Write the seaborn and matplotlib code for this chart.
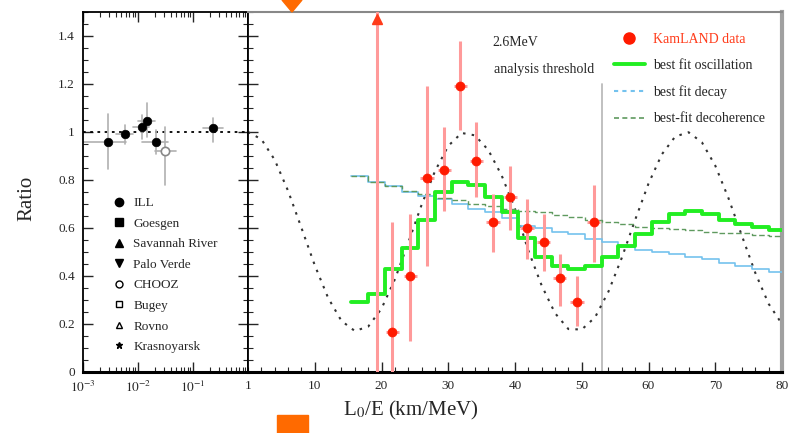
import numpy as np
import pandas as pd
import matplotlib
matplotlib.use("Agg")
import matplotlib.pyplot as plt
import seaborn as sns
from matplotlib.lines import Line2D
from matplotlib.patches import Polygon, Rectangle
from matplotlib.ticker import MultipleLocator, FixedLocator, FixedFormatter, NullFormatter, LogLocator

# ---------------- data ----------------
# left panel: earlier reactor experiments (L/E in km/MeV, log scale)
ref_x = [0.0029, 0.0058, 0.0117, 0.0145, 0.0213, 0.031, 0.23]
ref_y = [0.958, 0.99, 1.02, 1.046, 0.958, 0.92, 1.017]
ref_ylo = [0.846, 0.95, 0.97, 0.98, 0.91, 0.78, 0.96]
ref_yhi = [1.075, 1.03, 1.07, 1.12, 1.01, 1.02, 1.06]
ref_xlo = [0.001, 0.004, 0.008, 0.010, 0.012, 0.020, 0.15]
ref_xhi = [0.006, 0.008, 0.016, 0.020, 0.035, 0.050, 0.35]
ref_labels = ["ILL", "Goesgen", "Savannah River", "Palo Verde",
              "CHOOZ", "Bugey", "Rovno", "Krasnoyarsk"]

# right panel: KamLAND data
kl_x = [21.6, 24.3, 26.8, 29.4, 31.8, 34.2, 36.7, 39.3, 41.8, 44.3, 46.7, 49.3, 51.8]
kl_y = [0.167, 0.40, 0.81, 0.84, 1.19, 0.88, 0.625, 0.73, 0.60, 0.54, 0.39, 0.29, 0.625]
kl_lo = [0.0, 0.13, 0.44, 0.67, 1.01, 0.73, 0.50, 0.59, 0.47, 0.42, 0.275, 0.19, 0.46]
kl_hi = [0.625, 0.66, 1.19, 1.02, 1.38, 1.04, 0.74, 0.86, 0.72, 0.66, 0.49, 0.40, 0.78]
kl_off_x = [19.3]          # point whose marker is off scale (upper arrow)
kl_off_range = [0.0, 1.5]

# binned fit curves (bin edges in L0/E)
bin_edges = [15.5, 18.0, 20.5, 23.0, 25.5, 28.0, 30.5, 33.0, 35.5, 38.0, 40.5, 43.0, 45.5,
             48.0, 50.5, 53.0, 55.5, 58.0, 60.5, 63.0, 65.5, 68.0, 70.5, 73.0, 75.5, 78.0, 80.0]
osc_fit = [0.29, 0.325, 0.43, 0.515, 0.635, 0.75, 0.79, 0.78, 0.73, 0.665, 0.56, 0.48, 0.44,
           0.43, 0.44, 0.48, 0.525, 0.575, 0.625, 0.66, 0.67, 0.66, 0.635, 0.617, 0.604, 0.59]
decay_fit = [0.815, 0.79, 0.775, 0.75, 0.735, 0.72, 0.70, 0.68, 0.665, 0.64, 0.61, 0.60, 0.585,
             0.575, 0.555, 0.54, 0.52, 0.51, 0.50, 0.49, 0.48, 0.47, 0.455, 0.44, 0.43, 0.415]
decoh_fit = [0.815, 0.79, 0.775, 0.755, 0.74, 0.725, 0.715, 0.70, 0.69, 0.68, 0.67, 0.665, 0.655,
             0.645, 0.635, 0.625, 0.615, 0.605, 0.60, 0.595, 0.59, 0.585, 0.58, 0.578, 0.572, 0.567]

# unsmeared oscillation curve
osc_x = [0, 2, 4, 6, 8, 10, 12, 14, 16, 18, 20, 22, 24, 26, 28, 30, 32, 34, 36, 38, 40,
         42, 44, 46, 48, 50, 52, 54, 56, 58, 60, 62, 64, 66, 68, 70, 72, 74, 76, 78, 80]
osc_y = [1.00, 0.970, 0.884, 0.755, 0.601, 0.445, 0.309, 0.213, 0.171, 0.189, 0.264,
         0.386, 0.538, 0.696, 0.836, 0.942, 0.996, 0.986, 0.925, 0.819, 0.680,
         0.506, 0.360, 0.245, 0.179, 0.177, 0.228, 0.335, 0.476, 0.634, 0.785,
         0.907, 0.981, 0.999, 0.957, 0.860, 0.723, 0.567, 0.413, 0.284, 0.200]

threshold_x = 53.0
threshold_top = 1.2

left_ticks = [0.001, 0.01, 0.1, 1.0]
left_ticklabels = [r"$10^{-3}$", r"$10^{-2}$", r"$10^{-1}$", "1"]
right_ticks = [10, 20, 30, 40, 50, 60, 70, 80]

# ---------------- style ----------------
sns.set_theme(style="ticks")
plt.rcParams["font.family"] = ["Liberation Serif", "DejaVu Serif"]
plt.rcParams["mathtext.fontset"] = "stix"
plt.rcParams["xtick.direction"] = "in"
plt.rcParams["ytick.direction"] = "in"

fig = plt.figure(figsize=(7.98, 4.33), dpi=100)
W, H = 798.0, 433.0
axL = fig.add_axes([83 / W, 1 - 372 / H, 165 / W, 360 / H])
axR = fig.add_axes([248 / W, 1 - 372 / H, 534 / W, 360 / H])

# ---------- left panel ----------
axL.set_xscale("log")
axL.set_xlim(0.001, 1.0)
axL.set_ylim(0, 1.5)
axL.axhline(1.0, color="black", lw=1.3, ls=(0, (1.5, 2.5)), zorder=1)
ref_df = pd.DataFrame({"x": ref_x, "y": ref_y})
for i in range(len(ref_x)):
    axL.plot([ref_x[i], ref_x[i]], [ref_ylo[i], ref_yhi[i]], color="#b0b0b0", lw=1.2, zorder=2)
    axL.plot([ref_xlo[i], ref_xhi[i]], [ref_y[i], ref_y[i]], color="#b0b0b0", lw=1.2, zorder=2)
filled = ref_df.iloc[[0, 1, 2, 3, 4, 6]]
sns.scatterplot(data=filled, x="x", y="y", ax=axL, color="black", s=38,
                marker="o", edgecolor="black", zorder=3, legend=False)
sns.scatterplot(data=ref_df.iloc[[5]], x="x", y="y", ax=axL, s=36, marker="o",
                facecolor="white", edgecolor="#888888", linewidth=1.2, zorder=3, legend=False)

axL.xaxis.set_major_locator(FixedLocator(left_ticks))
axL.xaxis.set_major_formatter(FixedFormatter(left_ticklabels))
axL.xaxis.set_minor_locator(LogLocator(base=10, subs=np.arange(2, 10)))
axL.xaxis.set_minor_formatter(NullFormatter())
axL.yaxis.set_major_locator(MultipleLocator(0.2))
axL.yaxis.set_minor_locator(MultipleLocator(0.05))
axL.yaxis.set_major_formatter(plt.FuncFormatter(lambda v, p: ("%g" % round(v, 2))))
axL.tick_params(axis="both", which="major", length=7, width=1.0, labelsize=9.5,
                top=True, right=True, pad=6)
axL.tick_params(axis="both", which="minor", length=3.5, width=0.8, top=True, right=True)
axL.set_xlabel("")
axL.set_ylabel("")
for s in ["left", "top", "right"]:
    axL.spines[s].set_linewidth(1.3)
    axL.spines[s].set_color("black")
axL.spines["bottom"].set_linewidth(2.2)
axL.spines["bottom"].set_color("black")

leg_handles = [
    Line2D([], [], ls="", marker="o", color="black", ms=6),
    Line2D([], [], ls="", marker="s", color="black", ms=5.5),
    Line2D([], [], ls="", marker="^", color="black", ms=5.5),
    Line2D([], [], ls="", marker="v", color="black", ms=5.5),
    Line2D([], [], ls="", marker="o", mfc="white", mec="black", ms=5),
    Line2D([], [], ls="", marker="s", mfc="white", mec="black", ms=5),
    Line2D([], [], ls="", marker="^", mfc="white", mec="black", ms=4.5),
    Line2D([], [], ls="", marker="*", color="black", ms=5),
]
legL = axL.legend(leg_handles, ref_labels, loc="upper left",
                  bbox_to_anchor=(112 / W, 1 - 197 / H), bbox_transform=fig.transFigure,
                  frameon=False, fontsize=9.5, handlelength=1.0, handletextpad=0.6,
                  labelspacing=0.63, borderpad=0, borderaxespad=0)

# ---------- right panel ----------
axR.set_xlim(0, 80)
axR.set_ylim(0, 1.5)

osc_df = pd.DataFrame({"x": osc_x, "y": osc_y})
sns.lineplot(data=osc_df, x="x", y="y", ax=axR, color="#333333", lw=1.5,
             ls=(0, (1.2, 3.0)), zorder=2, sort=False, estimator=None)

step_x = bin_edges
step_df = pd.DataFrame({"x": step_x,
                        "osc": osc_fit + [osc_fit[-1]],
                        "decay": decay_fit + [decay_fit[-1]],
                        "decoh": decoh_fit + [decoh_fit[-1]]})
sns.lineplot(data=step_df, x="x", y="decay", ax=axR, color="#74c2ee", lw=1.2,
             drawstyle="steps-post", zorder=3, estimator=None)
sns.lineplot(data=step_df, x="x", y="decoh", ax=axR, color="#5f9a5f", lw=1.0,
             ls=(0, (4, 2)), drawstyle="steps-post", zorder=3, estimator=None)
sns.lineplot(data=step_df, x="x", y="osc", ax=axR, color="#22ee22", lw=2.8,
             drawstyle="steps-post", zorder=4, estimator=None)

axR.plot([threshold_x, threshold_x], [0, threshold_top], color="#bbbbbb", lw=1.3, zorder=1)

# KamLAND data points
kl_x_arr = np.array(kl_x)
kl_y_arr = np.array(kl_y)
yerr = [kl_y_arr - np.array(kl_lo), np.array(kl_hi) - kl_y_arr]
axR.errorbar(kl_x_arr, kl_y_arr, yerr=yerr, xerr=1.0, fmt="none",
             ecolor="#ff9a9a", elinewidth=2.2, capsize=0, zorder=5)
axR.plot([kl_off_x[0], kl_off_x[0]], kl_off_range, color="#ff9a9a", lw=2.2, zorder=5)
sns.scatterplot(x=kl_x, y=kl_y, ax=axR, color="#ff1a00", s=42, edgecolor="#ff1a00",
                zorder=6, legend=False)
axR.plot(kl_off_x, [1.47], ls="", marker="^", color="#ff3b1a", ms=7, zorder=6, clip_on=False)

axR.xaxis.set_major_locator(FixedLocator(right_ticks))
axR.xaxis.set_minor_locator(MultipleLocator(2))
axR.yaxis.set_major_locator(MultipleLocator(0.2))
axR.yaxis.set_minor_locator(MultipleLocator(0.05))
axR.tick_params(axis="x", which="major", length=7, width=1.0, labelsize=9.5, pad=6)
axR.tick_params(axis="x", which="minor", length=3.5, width=0.8)
axR.tick_params(axis="y", which="major", length=7, width=1.0, labelleft=False)
axR.tick_params(axis="y", which="minor", length=3.5, width=0.8)
axR.set_xlabel("")
axR.set_ylabel("")
axR.spines["left"].set_linewidth(1.3)
axR.spines["left"].set_color("black")
axR.spines["bottom"].set_linewidth(2.2)
axR.spines["bottom"].set_color("black")
axR.spines["top"].set_linewidth(1.5)
axR.spines["top"].set_color("#888888")
axR.spines["right"].set_linewidth(3.0)
axR.spines["right"].set_color("#a0a0a0")

axR.text(515 / W, 1 - 43 / H, "2.6MeV", transform=fig.transFigure, ha="center",
         va="center", fontsize=10)
axR.text(544 / W, 1 - 70 / H, "analysis threshold", transform=fig.transFigure,
         ha="center", va="center", fontsize=10)

r_handles = [
    Line2D([], [], ls="", marker="o", color="#ff1a00", ms=8),
    Line2D([], [], color="#22ee22", lw=2.8),
    Line2D([], [], color="#74c2ee", lw=1.5, ls=(0, (2, 2))),
    Line2D([], [], color="#5f9a5f", lw=1.2, ls=(0, (3, 2))),
]
r_labels = ["KamLAND data", "best fit oscillation", "best fit decay", "best-fit decoherence"]
legR = axR.legend(r_handles, r_labels, loc="upper left",
                  bbox_to_anchor=(614 / W, 1 - 33 / H), bbox_transform=fig.transFigure,
                  frameon=False, fontsize=10, handlelength=2.2, handletextpad=0.6,
                  labelspacing=0.95, borderpad=0, borderaxespad=0)
legR.get_texts()[0].set_color("#ff3b1a")

# axis titles
fig.text(27 / W, 1 - 198 / H, "Ratio", rotation=90, ha="center", va="center", fontsize=15)
fig.text(411 / W, 1 - 410 / H, r"L$_0$/E (km/MeV)", ha="center", va="center", fontsize=15)

# orange slide markers
fig.add_artist(Polygon([[282 / W, 1.0], [302 / W, 1.0], [292 / W, 1 - 12 / H]],
                       closed=True, transform=fig.transFigure, color="#ff6a00", zorder=10))
fig.add_artist(Rectangle((277 / W, 0), 31 / W, 18 / H, transform=fig.transFigure,
                         color="#ff6a00", zorder=10))

fig.savefig("out.png", dpi=100)
